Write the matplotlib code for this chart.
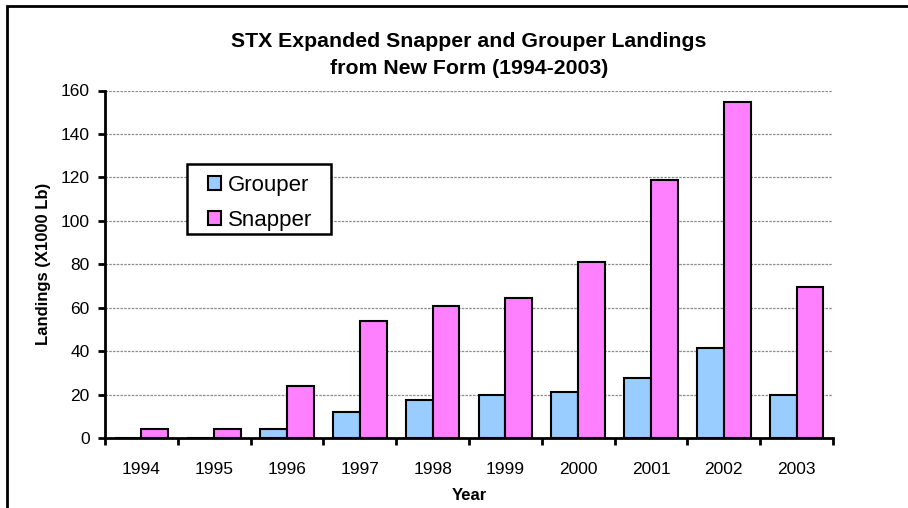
import matplotlib
matplotlib.use('Agg')
import matplotlib.pyplot as plt
import numpy as np
from matplotlib.patches import Rectangle, Patch

plt.rcParams['font.family'] = ['Liberation Sans', 'DejaVu Sans']

# data
years = ['1994', '1995', '1996', '1997', '1998', '1999', '2000', '2001', '2002', '2003']
grouper = [0, 0, 4.3, 11.8, 17.3, 20.0, 21.0, 27.5, 41.3, 20.0]
snapper = [4.3, 4.3, 23.8, 54.1, 60.6, 64.3, 81.0, 118.9, 154.7, 69.5]

grouper_color = '#99CCFF'
snapper_color = '#FF80FF'

fig = plt.figure(figsize=(9.08, 5.08), dpi=100)
ax = fig.add_axes([105 / 908, 1 - 438 / 508, 728 / 908, 347.5 / 508])

x = np.arange(len(years))
w = 0.367
ax.bar(x - w / 2, grouper, w, color=grouper_color, edgecolor='black', linewidth=1.5, zorder=3)
ax.bar(x + w / 2, snapper, w, color=snapper_color, edgecolor='black', linewidth=1.5, zorder=3)

ax.set_xlim(-0.5, len(years) - 0.5)
ax.set_ylim(0, 160)
ax.set_yticks(np.arange(0, 161, 20))
ax.yaxis.grid(True, color='#8c8c8c', linestyle=(0, (2, 1)), linewidth=0.9, zorder=0)

# year labels centered, tick marks between categories
ax.set_xticks(x)
ax.set_xticklabels(years, fontsize=12.5)
ax.tick_params(axis='x', which='major', length=0, pad=17)
ax.set_xticks(np.arange(-0.5, len(years)), minor=True)
ax.tick_params(axis='x', which='minor', length=5, width=2, direction='out')
ax.tick_params(axis='y', length=5, width=2, direction='out', labelsize=12.5, pad=6)

for s in ['top', 'right']:
    ax.spines[s].set_visible(False)
for s in ['left', 'bottom']:
    ax.spines[s].set_linewidth(2)

ax.set_xlabel('Year', fontsize=12, fontweight='bold', labelpad=8)
ax.set_ylabel('Landings (X1000 Lb)', fontsize=12, fontweight='bold', labelpad=7)
ax.set_title('STX Expanded Snapper and Grouper Landings\nfrom New Form (1994-2003)',
             fontsize=15.3, fontweight='bold', pad=12, linespacing=1.55)

# legend: white box with black frame, entries placed inside
box = Rectangle(((187 - 105) / 728, (438 - 234) / 347.5), 144 / 728, 70 / 347.5,
                transform=ax.transAxes, facecolor='white', edgecolor='black',
                linewidth=1.8, zorder=4)
ax.add_patch(box)
handles = [Patch(facecolor=grouper_color, edgecolor='black', linewidth=1.5, label='Grouper'),
           Patch(facecolor=snapper_color, edgecolor='black', linewidth=1.5, label='Snapper')]
leg = ax.legend(handles=handles, loc='upper left',
                bbox_to_anchor=((208 - 105) / 728, (438 - 175) / 347.5), fontsize=16,
                frameon=False, handlelength=0.59, handleheight=0.59,
                handletextpad=0.32, borderpad=0, labelspacing=0.62, borderaxespad=0)
leg.set_zorder(5)

# outer chart border (cut off at right and bottom like the reference)
fig.patches.append(Rectangle((7 / 908, -0.2), 1.2, 1 - 5.5 / 508 + 0.2, transform=fig.transFigure,
                             fill=False, edgecolor='black', linewidth=2))

fig.savefig('out.png', dpi=100)
